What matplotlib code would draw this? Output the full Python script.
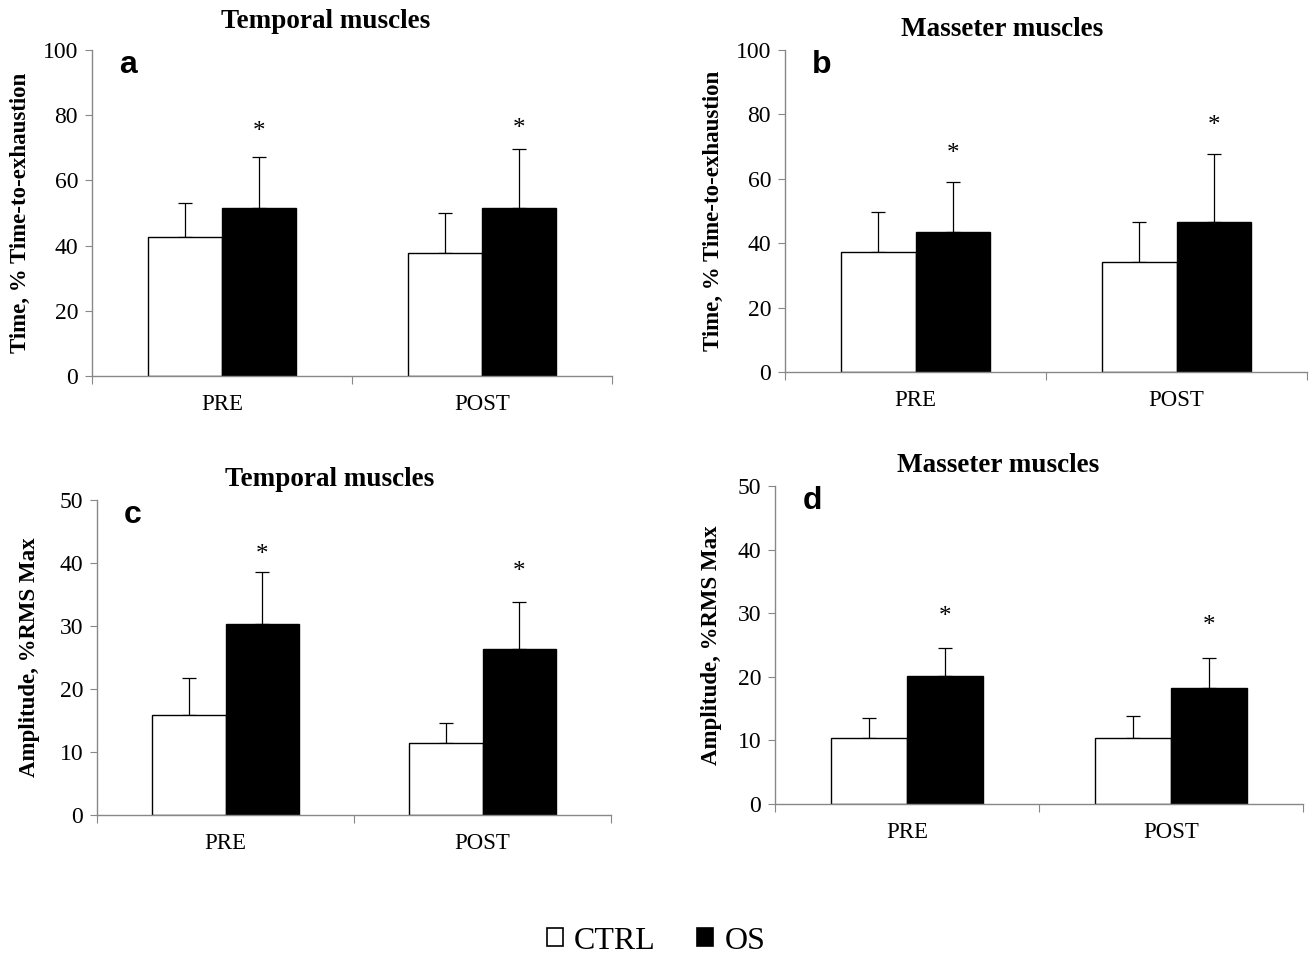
import matplotlib
matplotlib.use("Agg")
import matplotlib.pyplot as plt
from matplotlib.patches import Patch

categories = ["PRE", "POST"]
groups = ["CTRL", "OS"]

# panel a: Temporal, time
a_ctrl = [42.6, 37.8]
a_ctrl_err = [10.4, 12.2]
a_os = [51.4, 51.4]
a_os_err = [15.9, 18.2]
a_star = [74.8, 75.8]

# panel b: Masseter, time
b_ctrl = [37.3, 34.1]
b_ctrl_err = [12.5, 12.5]
b_os = [43.6, 46.5]
b_os_err = [15.3, 21.3]
b_star = [67.6, 76.4]

# panel c: Temporal, amplitude
c_ctrl = [15.9, 11.4]
c_ctrl_err = [5.9, 3.2]
c_os = [30.3, 26.4]
c_os_err = [8.2, 7.4]
c_star = [41.2, 38.5]

# panel d: Masseter, amplitude
d_ctrl = [10.4, 10.4]
d_ctrl_err = [3.2, 3.5]
d_os = [20.1, 18.2]
d_os_err = [4.4, 4.7]
d_star = [29.4, 28.0]

W, H = 1309, 955
fig = plt.figure(figsize=(W / 100, H / 100), dpi=100)

serif = ["Liberation Serif", "DejaVu Serif"]
sans = ["Liberation Sans", "DejaVu Sans"]


def rect(l, r, t, b):
    return [l / W, 1 - b / H, (r - l) / W, (b - t) / H]


def panel(box, ctrl, ctrl_err, os_, os_err, star, ymax, ystep, title, title_xy,
          letter, ylabel, ylabel_x):
    ax = fig.add_axes(rect(*box))
    x = list(range(len(categories)))
    w = 0.286
    xc = [i - w / 2 for i in x]
    xo = [i + w / 2 for i in x]
    ax.bar(xc, ctrl, width=w, color="white", edgecolor="black", linewidth=1.0, zorder=2)
    ax.bar(xo, os_, width=w, color="black", edgecolor="black", linewidth=1.0, zorder=2)
    ax.errorbar(xc, ctrl, yerr=[[0] * len(ctrl), ctrl_err], fmt="none", ecolor="black",
                elinewidth=0.9, capsize=5, capthick=0.9, zorder=1)
    ax.errorbar(xo, os_, yerr=[[0] * len(os_), os_err], fmt="none", ecolor="black",
                elinewidth=0.9, capsize=5, capthick=0.9, zorder=1)
    for xi, s in zip(xo, star):
        ax.text(xi, s, "*", ha="center", va="center", fontsize=18, family=serif)
    ax.set_xlim(-0.5, 1.5)
    ax.set_ylim(0, ymax)
    ax.set_yticks(range(0, ymax + 1, ystep))
    ax.set_xticks([-0.5, 0.5, 1.5])
    ax.set_xticklabels([])
    ax.set_xticks(x, minor=True)
    ax.set_xticklabels(categories, minor=True, fontsize=16.5, family=serif)
    ax.tick_params(axis="x", which="minor", length=0, pad=13)
    ax.tick_params(axis="x", which="major", length=6, color="#888888", direction="out")
    ax.tick_params(axis="y", length=5, color="#888888", labelsize=17, pad=5)
    for lab in ax.get_yticklabels():
        lab.set_family(serif)
    for s in ["top", "right"]:
        ax.spines[s].set_visible(False)
    for s in ["left", "bottom"]:
        ax.spines[s].set_color("#888888")
        ax.spines[s].set_linewidth(1.0)
    ax.text(0.052, 1.0, letter, transform=ax.transAxes, fontsize=23, fontweight="bold",
            family=sans, va="top", ha="left")
    fig.text(title_xy[0] / W, 1 - title_xy[1] / H, title, ha="center", va="center",
             fontsize=19.5, fontweight="bold", family=serif)
    yc = (box[2] + box[3]) / 2
    fig.text(ylabel_x / W, 1 - yc / H, ylabel, rotation=90, ha="center", va="center",
             fontsize=16.5, fontweight="bold", family=serif)
    return ax


panel((92, 612, 50, 376), a_ctrl, a_ctrl_err, a_os, a_os_err, a_star, 100, 20,
      "Temporal muscles", (326, 22), "a", "Time, % Time-to-exhaustion", 20)
panel((785, 1307, 50, 372), b_ctrl, b_ctrl_err, b_os, b_os_err, b_star, 100, 20,
      "Masseter muscles", (1002, 30), "b", "Time, % Time-to-exhaustion", 713)
panel((97, 611, 500, 815), c_ctrl, c_ctrl_err, c_os, c_os_err, c_star, 50, 10,
      "Temporal muscles", (330, 479), "c", "Amplitude, %RMS Max", 30)
panel((775, 1303, 486, 804), d_ctrl, d_ctrl_err, d_os, d_os_err, d_star, 50, 10,
      "Masseter muscles", (998, 465), "d", "Amplitude, %RMS Max", 712)

handles = [Patch(facecolor="white", edgecolor="black", linewidth=1.2),
           Patch(facecolor="black", edgecolor="black", linewidth=1.2)]
fig.legend(handles, groups, loc="center", bbox_to_anchor=(656 / W, 1 - 941 / H),
           ncol=2, frameon=False, prop={"family": serif, "size": 23},
           handlelength=0.5, handleheight=0.5, handletextpad=0.35, columnspacing=1.3)

fig.savefig("out.png", dpi=100)
